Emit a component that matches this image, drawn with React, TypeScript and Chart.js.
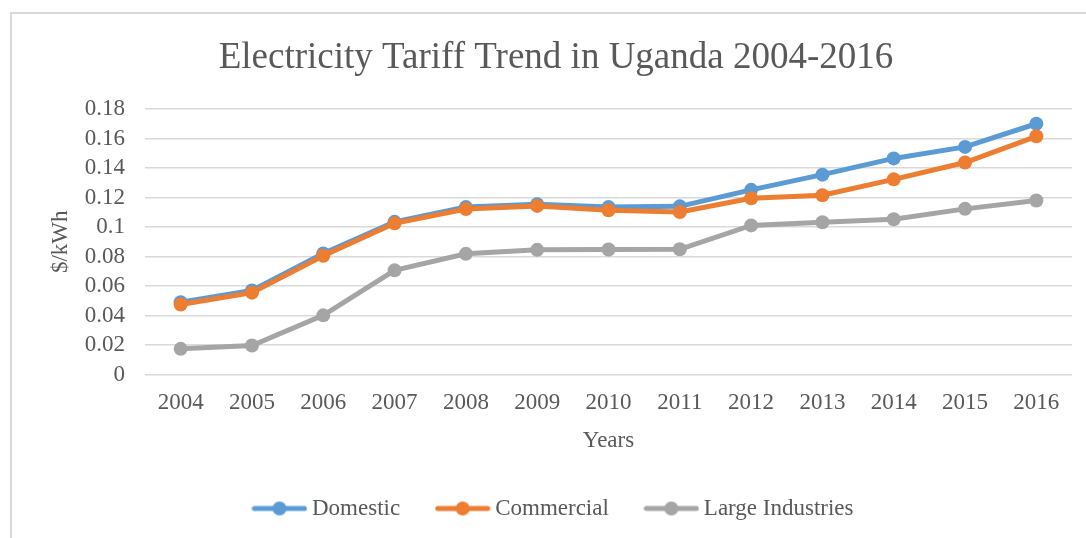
import React, { useEffect, useRef } from "react";
import { Chart, registerables } from "chart.js";

Chart.register(...registerables);

const categories = ["2004", "2005", "2006", "2007", "2008", "2009", "2010", "2011", "2012", "2013", "2014", "2015", "2016"];
const domestic = [0.049, 0.057, 0.082, 0.1035, 0.1135, 0.1155, 0.1135, 0.114, 0.1252, 0.1355, 0.1465, 0.1543, 0.17];
const commercial = [0.0475, 0.0555, 0.0805, 0.1025, 0.1122, 0.1143, 0.1114, 0.1102, 0.1195, 0.1215, 0.1323, 0.1437, 0.1615];
const largeIndustries = [0.0174, 0.0197, 0.0401, 0.0706, 0.0818, 0.0845, 0.0847, 0.0849, 0.1011, 0.1032, 0.1053, 0.1123, 0.118];
const yTickLabels = ["0", "0.02", "0.04", "0.06", "0.08", "0.1", "0.12", "0.14", "0.16", "0.18"];

const seriesNames = ["Domestic", "Commercial", "Large Industries"];
const seriesColors = ["#5B9BD5", "#ED7D31", "#A5A5A5"];

const FONT = "'Liberation Serif', 'Times New Roman', serif";
const TEXT = "#595959";

function legendIcon(color: string): HTMLCanvasElement {
  const c = document.createElement("canvas");
  c.width = 56;
  c.height = 16;
  const ctx = c.getContext("2d")!;
  ctx.strokeStyle = color;
  ctx.lineWidth = 5;
  ctx.lineCap = "round";
  ctx.beginPath();
  ctx.moveTo(3, 8);
  ctx.lineTo(53, 8);
  ctx.stroke();
  ctx.fillStyle = color;
  ctx.beginPath();
  ctx.arc(28, 8, 7, 0, Math.PI * 2);
  ctx.fill();
  return c;
}

const framePlugin = {
  id: "frame",
  beforeDraw(chart: any) {
    const ctx = chart.ctx;
    ctx.save();
    ctx.fillStyle = "#ffffff";
    ctx.fillRect(0, 0, chart.width, chart.height);
    ctx.strokeStyle = "#D9D9D9";
    ctx.lineWidth = 2;
    ctx.beginPath();
    ctx.moveTo(11, chart.height);
    ctx.lineTo(11, 13);
    ctx.lineTo(chart.width, 13);
    ctx.stroke();
    ctx.restore();
  },
};

export default function App() {
  const ref = useRef<HTMLCanvasElement>(null);

  useEffect(() => {
    if (!ref.current) return;
    const values = [domestic, commercial, largeIndustries];
    const icons = seriesColors.map((c) => legendIcon(c));
    const chart = new Chart(ref.current, {
      type: "line",
      data: {
        labels: categories,
        datasets: values.map((v, i) => ({
          label: seriesNames[i],
          data: v,
          borderColor: seriesColors[i],
          backgroundColor: seriesColors[i],
          pointBackgroundColor: seriesColors[i],
          pointBorderColor: seriesColors[i],
          pointBorderWidth: 0,
          pointRadius: 7,
          pointStyle: "circle",
          borderWidth: 5,
          tension: 0,
          order: 3 - i,
        })) as any,
      },
      options: {
        animation: false,
        responsive: false,
        devicePixelRatio: 1,
        layout: { padding: { top: 0, left: 40, right: 14, bottom: 8 } },
        plugins: {
          title: {
            display: true,
            text: "Electricity Tariff Trend in Uganda 2004-2016",
            color: TEXT,
            font: { family: FONT, size: 37, weight: "normal" },
            padding: { top: 36, bottom: 28.6 },
          },
          legend: {
            position: "bottom",
            labels: {
              usePointStyle: true,
              pointStyleWidth: 42,
              padding: 41.5,
              color: TEXT,
              font: { family: FONT, size: 23 },
              generateLabels: (ch: any) =>
                ch.data.datasets.map((ds: any, i: number) => ({
                  text: ds.label,
                  fillStyle: seriesColors[i],
                  strokeStyle: seriesColors[i],
                  lineWidth: 0,
                  pointStyle: icons[i],
                  hidden: false,
                  datasetIndex: i,
                  fontColor: TEXT,
                })),
            },
          },
          tooltip: { enabled: false },
        },
        scales: {
          x: {
            type: "category",
            offset: true,
            grid: { display: false },
            border: { display: false },
            ticks: { color: TEXT, font: { family: FONT, size: 23 }, padding: 7, maxRotation: 0, autoSkip: false },
            title: {
              display: true,
              text: "Years",
              color: TEXT,
              font: { family: FONT, size: 23 },
              padding: { top: 0, bottom: 1 },
            },
            afterFit: (s: any) => {
              s.height = 81;
            },
          },
          y: {
            min: 0,
            max: 0.18,
            grid: { color: "#D9D9D9", lineWidth: 1.5, drawTicks: false },
            border: { display: false },
            ticks: {
              stepSize: 0.02,
              autoSkip: false,
              color: TEXT,
              padding: 20,
              font: { family: FONT, size: 23 },
              callback: (_v: any, i: number) => yTickLabels[i],
            },
            title: {
              display: true,
              text: "$/kWh",
              color: TEXT,
              font: { family: FONT, size: 23 },
              padding: { top: 7, bottom: 0 },
            },
            afterFit: (s: any) => {
              s.width = 105;
            },
          },
        },
      },
      plugins: [framePlugin],
    });
    return () => chart.destroy();
  }, []);

  return (
    <div style={{ position: "fixed", left: 0, top: 0, width: 1086, height: 538, background: "#fff" }}>
      <canvas ref={ref} width={1086} height={538} style={{ display: "block" }} />
    </div>
  );
}
